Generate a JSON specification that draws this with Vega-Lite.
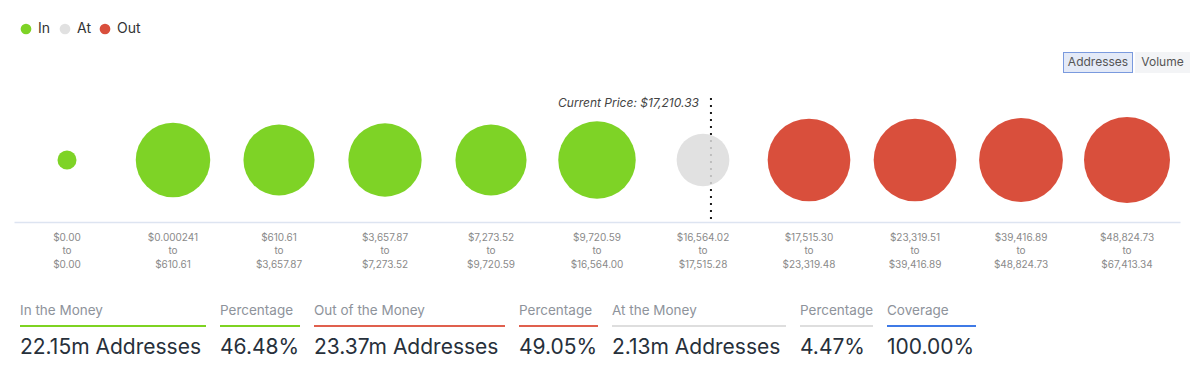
{
  "$schema": "https://vega.github.io/schema/vega-lite/v6.json",
  "background": "white",
  "padding": {"left": 14, "top": 22, "right": 0, "bottom": 0},
  "config": {"font": "Inter", "view": {"stroke": null}},
  "datasets": {
    "ranges": [
      {"range": "$0.00 to $0.00", "status": "In", "addresses": 0.01},
      {"range": "$0.000241 to $610.61", "status": "In", "addresses": 4.55},
      {"range": "$610.61 to $3,657.87", "status": "In", "addresses": 4.12},
      {"range": "$3,657.87 to $7,273.52", "status": "In", "addresses": 4.40},
      {"range": "$7,273.52 to $9,720.59", "status": "In", "addresses": 4.12},
      {"range": "$9,720.59 to $16,564.00", "status": "In", "addresses": 4.95},
      {"range": "$16,564.02 to $17,515.28", "status": "At", "addresses": 2.13},
      {"range": "$17,515.30 to $23,319.48", "status": "Out", "addresses": 5.68},
      {"range": "$23,319.51 to $39,416.89", "status": "Out", "addresses": 5.68},
      {"range": "$39,416.89 to $48,824.73", "status": "Out", "addresses": 5.84},
      {"range": "$48,824.73 to $67,413.34", "status": "Out", "addresses": 6.17}
    ],
    "price": [{"label": "Current Price: $17,210.33", "range": "$16,564.02 to $17,515.28"}],
    "stats": [
      {"id": "in", "header": "In the Money", "value": "22.15m Addresses"},
      {"id": "inpct", "header": "Percentage", "value": "46.48%"},
      {"id": "out", "header": "Out of the Money", "value": "23.37m Addresses"},
      {"id": "outpct", "header": "Percentage", "value": "49.05%"},
      {"id": "at", "header": "At the Money", "value": "2.13m Addresses"},
      {"id": "atpct", "header": "Percentage", "value": "4.47%"},
      {"id": "cov", "header": "Coverage", "value": "100.00%"}
    ],
    "buttons": [{"button": "Addresses"}, {"button": "Volume"}]
  },
  "width": 1166,
  "height": 124,
  "layer": [
    {
      "data": {"name": "price"},
      "mark": {"type": "rule", "strokeDash": [2, 5], "strokeWidth": 2, "color": "#1a1a1a"},
      "encoding": {"x": {"field": "range", "type": "nominal", "bandPosition": 0.575}}
    },
    {
      "data": {"name": "ranges"},
      "mark": {"type": "circle", "opacity": 0.85},
      "encoding": {
        "x": {
          "field": "range",
          "type": "nominal",
          "sort": null,
          "scale": {
            "domain": ["$0.00 to $0.00", "$0.000241 to $610.61", "$610.61 to $3,657.87", "$3,657.87 to $7,273.52", "$7,273.52 to $9,720.59", "$9,720.59 to $16,564.00", "$16,564.02 to $17,515.28", "$17,515.30 to $23,319.48", "$23,319.51 to $39,416.89", "$39,416.89 to $48,824.73", "$48,824.73 to $67,413.34"],
            "paddingInner": 0,
            "paddingOuter": 0
          },
          "axis": {
            "title": null,
            "labelAngle": 0,
            "labelAlign": "center",
            "ticks": false,
            "domainColor": "#dde4f1",
            "domainWidth": 1.5,
            "labelColor": "#8a8a8a",
            "labelFontSize": 10,
            "labelPadding": 15,
            "labelLineHeight": 13.5,
            "labelOverlap": false,
            "labelLimit": 0,
            "labelExpr": "[split(datum.value, ' to ')[0], 'to', split(datum.value, ' to ')[1]]"
          }
        },
        "y": {"datum": 0.5, "type": "quantitative", "scale": {"domain": [0, 1]}, "axis": null},
        "size": {
          "field": "addresses",
          "type": "quantitative",
          "scale": {"zero": false, "domain": [0.01, 6.17], "range": [361, 7396]},
          "legend": null
        },
        "color": {
          "field": "status",
          "type": "nominal",
          "scale": {"domain": ["In", "At", "Out"], "range": ["#67cb00", "#dcdcdc", "#d2301a"]},
          "legend": {
            "title": null,
            "orient": "none",
            "legendX": 5,
            "legendY": -76,
            "direction": "horizontal",
            "symbolType": "circle",
            "symbolSize": 115,
            "symbolStrokeWidth": 0,
            "labelFontSize": 14,
            "labelColor": "#333333",
            "labelOffset": 5,
            "columnPadding": 7,
            "padding": 0
          }
        }
      }
    },
    {
      "data": {"name": "price"},
      "mark": {"type": "text", "align": "right", "baseline": "middle", "dx": -12, "dy": 5, "fontSize": 12, "fontStyle": "italic", "color": "#444444"},
      "encoding": {
        "x": {"field": "range", "type": "nominal", "bandPosition": 0.575},
        "y": {"datum": 1, "type": "quantitative"},
        "text": {"field": "label"}
      }
    },
    {
      "data": {"name": "buttons"},
      "transform": [{"filter": "datum.button == 'Addresses'"}],
      "layer": [
        {"mark": {"type": "tick", "orient": "horizontal", "size": 70, "thickness": 21, "color": "#7a9ade", "opacity": 1, "xOffset": -29},
         "encoding": {"x": {"datum": "$48,824.73 to $67,413.34", "type": "nominal"}, "y": {"datum": 1.2863, "type": "quantitative"}}},
        {"mark": {"type": "tick", "orient": "horizontal", "size": 68, "thickness": 19, "color": "#e4eaf7", "opacity": 1, "xOffset": -29},
         "encoding": {"x": {"datum": "$48,824.73 to $67,413.34", "type": "nominal"}, "y": {"datum": 1.2863, "type": "quantitative"}}},
        {"mark": {"type": "text", "align": "center", "baseline": "middle", "fontSize": 12, "color": "#555555"},
         "encoding": {"x": {"datum": "$48,824.73 to $67,413.34", "type": "nominal", "bandPosition": 0.2264}, "y": {"datum": 1.2863, "type": "quantitative"}, "text": {"field": "button"}}}
      ]
    },
    {
      "data": {"name": "buttons"},
      "transform": [{"filter": "datum.button == 'Volume'"}],
      "layer": [
        {"mark": {"type": "tick", "orient": "horizontal", "size": 55, "thickness": 21, "color": "#f3f4f6", "opacity": 1, "xOffset": 35.5},
         "encoding": {"x": {"datum": "$48,824.73 to $67,413.34", "type": "nominal"}, "y": {"datum": 1.2863, "type": "quantitative"}}},
        {"mark": {"type": "text", "align": "center", "baseline": "middle", "fontSize": 12, "color": "#555555"},
         "encoding": {"x": {"datum": "$48,824.73 to $67,413.34", "type": "nominal", "bandPosition": 0.835}, "y": {"datum": 1.2863, "type": "quantitative"}, "text": {"field": "button"}}}
      ]
    },
    {
      "data": {"name": "stats"},
      "transform": [{"filter": "datum.id == 'in'"}],
      "layer": [
        {"mark": {"type": "text", "align": "left", "baseline": "middle", "fontSize": 13.5, "color": "#8e939b"},
         "encoding": {"x": {"datum": "$0.00 to $0.00", "type": "nominal", "bandPosition": 0.0566}, "y": {"datum": -0.7177, "type": "quantitative"}, "text": {"field": "header"}}},
        {"mark": {"type": "tick", "orient": "horizontal", "size": 186, "thickness": 2, "color": "#7ed321", "opacity": 1, "xOffset": 46},
         "encoding": {"x": {"datum": "$0.00 to $0.00", "type": "nominal"}, "y": {"datum": -0.8387, "type": "quantitative"}}},
        {"mark": {"type": "text", "align": "left", "baseline": "middle", "fontSize": 21, "color": "#27303b"},
         "encoding": {"x": {"datum": "$0.00 to $0.00", "type": "nominal", "bandPosition": 0.0566}, "y": {"datum": -1.0161, "type": "quantitative"}, "text": {"field": "value"}}}
      ]
    },
    {
      "data": {"name": "stats"},
      "transform": [{"filter": "datum.id == 'inpct'"}],
      "layer": [
        {"mark": {"type": "text", "align": "left", "baseline": "middle", "fontSize": 13.5, "color": "#8e939b"},
         "encoding": {"x": {"datum": "$0.000241 to $610.61", "type": "nominal", "bandPosition": 0.9434}, "y": {"datum": -0.7177, "type": "quantitative"}, "text": {"field": "header"}}},
        {"mark": {"type": "tick", "orient": "horizontal", "size": 80, "thickness": 2, "color": "#7ed321", "opacity": 1, "xOffset": -19},
         "encoding": {"x": {"datum": "$610.61 to $3,657.87", "type": "nominal"}, "y": {"datum": -0.8387, "type": "quantitative"}}},
        {"mark": {"type": "text", "align": "left", "baseline": "middle", "fontSize": 21, "color": "#27303b"},
         "encoding": {"x": {"datum": "$0.000241 to $610.61", "type": "nominal", "bandPosition": 0.9434}, "y": {"datum": -1.0161, "type": "quantitative"}, "text": {"field": "value"}}}
      ]
    },
    {
      "data": {"name": "stats"},
      "transform": [{"filter": "datum.id == 'out'"}],
      "layer": [
        {"mark": {"type": "text", "align": "left", "baseline": "middle", "fontSize": 13.5, "color": "#8e939b"},
         "encoding": {"x": {"datum": "$610.61 to $3,657.87", "type": "nominal", "bandPosition": 0.8302}, "y": {"datum": -0.7177, "type": "quantitative"}, "text": {"field": "header"}}},
        {"mark": {"type": "tick", "orient": "horizontal", "size": 191, "thickness": 2, "color": "#e0604e", "opacity": 1, "xOffset": 24.5},
         "encoding": {"x": {"datum": "$3,657.87 to $7,273.52", "type": "nominal"}, "y": {"datum": -0.8387, "type": "quantitative"}}},
        {"mark": {"type": "text", "align": "left", "baseline": "middle", "fontSize": 21, "color": "#27303b"},
         "encoding": {"x": {"datum": "$610.61 to $3,657.87", "type": "nominal", "bandPosition": 0.8302}, "y": {"datum": -1.0161, "type": "quantitative"}, "text": {"field": "value"}}}
      ]
    },
    {
      "data": {"name": "stats"},
      "transform": [{"filter": "datum.id == 'outpct'"}],
      "layer": [
        {"mark": {"type": "text", "align": "left", "baseline": "middle", "fontSize": 13.5, "color": "#8e939b"},
         "encoding": {"x": {"datum": "$7,273.52 to $9,720.59", "type": "nominal", "bandPosition": 0.7642}, "y": {"datum": -0.7177, "type": "quantitative"}, "text": {"field": "header"}}},
        {"mark": {"type": "tick", "orient": "horizontal", "size": 79, "thickness": 2, "color": "#e0604e", "opacity": 1, "xOffset": -38.5},
         "encoding": {"x": {"datum": "$9,720.59 to $16,564.00", "type": "nominal"}, "y": {"datum": -0.8387, "type": "quantitative"}}},
        {"mark": {"type": "text", "align": "left", "baseline": "middle", "fontSize": 21, "color": "#27303b"},
         "encoding": {"x": {"datum": "$7,273.52 to $9,720.59", "type": "nominal", "bandPosition": 0.7642}, "y": {"datum": -1.0161, "type": "quantitative"}, "text": {"field": "value"}}}
      ]
    },
    {
      "data": {"name": "stats"},
      "transform": [{"filter": "datum.id == 'at'"}],
      "layer": [
        {"mark": {"type": "text", "align": "left", "baseline": "middle", "fontSize": 13.5, "color": "#8e939b"},
         "encoding": {"x": {"datum": "$9,720.59 to $16,564.00", "type": "nominal", "bandPosition": 0.6415}, "y": {"datum": -0.7177, "type": "quantitative"}, "text": {"field": "header"}}},
        {"mark": {"type": "tick", "orient": "horizontal", "size": 174, "thickness": 2, "color": "#dedede", "opacity": 1, "xOffset": -4},
         "encoding": {"x": {"datum": "$16,564.02 to $17,515.28", "type": "nominal"}, "y": {"datum": -0.8387, "type": "quantitative"}}},
        {"mark": {"type": "text", "align": "left", "baseline": "middle", "fontSize": 21, "color": "#27303b"},
         "encoding": {"x": {"datum": "$9,720.59 to $16,564.00", "type": "nominal", "bandPosition": 0.6415}, "y": {"datum": -1.0161, "type": "quantitative"}, "text": {"field": "value"}}}
      ]
    },
    {
      "data": {"name": "stats"},
      "transform": [{"filter": "datum.id == 'atpct'"}],
      "layer": [
        {"mark": {"type": "text", "align": "left", "baseline": "middle", "fontSize": 13.5, "color": "#8e939b"},
         "encoding": {"x": {"datum": "$17,515.30 to $23,319.48", "type": "nominal", "bandPosition": 0.4151}, "y": {"datum": -0.7177, "type": "quantitative"}, "text": {"field": "header"}}},
        {"mark": {"type": "tick", "orient": "horizontal", "size": 73, "thickness": 2, "color": "#dedede", "opacity": 1, "xOffset": 27.5},
         "encoding": {"x": {"datum": "$17,515.30 to $23,319.48", "type": "nominal"}, "y": {"datum": -0.8387, "type": "quantitative"}}},
        {"mark": {"type": "text", "align": "left", "baseline": "middle", "fontSize": 21, "color": "#27303b"},
         "encoding": {"x": {"datum": "$17,515.30 to $23,319.48", "type": "nominal", "bandPosition": 0.4151}, "y": {"datum": -1.0161, "type": "quantitative"}, "text": {"field": "value"}}}
      ]
    },
    {
      "data": {"name": "stats"},
      "transform": [{"filter": "datum.id == 'cov'"}],
      "layer": [
        {"mark": {"type": "text", "align": "left", "baseline": "middle", "fontSize": 13.5, "color": "#8e939b"},
         "encoding": {"x": {"datum": "$23,319.51 to $39,416.89", "type": "nominal", "bandPosition": 0.2358}, "y": {"datum": -0.7177, "type": "quantitative"}, "text": {"field": "header"}}},
        {"mark": {"type": "tick", "orient": "horizontal", "size": 89, "thickness": 2, "color": "#3f7ae6", "opacity": 1, "xOffset": 16.5},
         "encoding": {"x": {"datum": "$23,319.51 to $39,416.89", "type": "nominal"}, "y": {"datum": -0.8387, "type": "quantitative"}}},
        {"mark": {"type": "text", "align": "left", "baseline": "middle", "fontSize": 21, "color": "#27303b"},
         "encoding": {"x": {"datum": "$23,319.51 to $39,416.89", "type": "nominal", "bandPosition": 0.2358}, "y": {"datum": -1.0161, "type": "quantitative"}, "text": {"field": "value"}}}
      ]
    }
  ]
}
